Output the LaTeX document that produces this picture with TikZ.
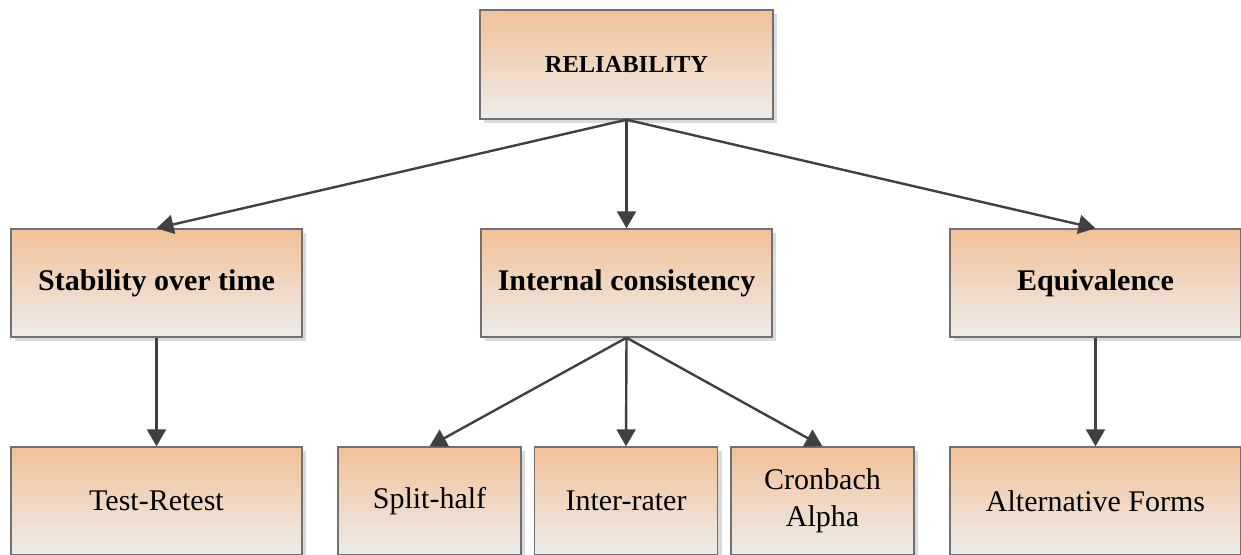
\documentclass[tikz,border=0pt]{standalone}
\usepackage{fontspec}
\setmainfont{Liberation Serif}
\usetikzlibrary{arrows.meta,shadows}
\definecolor{peach}{RGB}{242,193,151}
\definecolor{paleg}{RGB}{238,236,234}
\definecolor{edgeg}{RGB}{112,112,112}
\definecolor{arrowg}{RGB}{64,64,64}
\tikzset{
  box/.style={draw=edgeg, line width=1.4pt, top color=peach, bottom color=paleg,
    shading angle=0, minimum width=291pt, minimum height=108pt, inner sep=0pt,
    align=center, font=\fontsize{30}{37}\selectfont,
    drop shadow={shadow xshift=4pt, shadow yshift=-4pt, fill=black!14, opacity=1}},
  smallbox/.style={box, minimum width=183pt},
  link/.style={draw=arrowg, line width=2.4pt,
    -{Triangle[length=17pt, width=19pt]}, shorten >=0pt}
}
\begin{document}
\begin{tikzpicture}[x=1pt, y=-1pt]
  \useasboundingbox (0,0) rectangle (1241,554);
  % top level
  \node[box, minimum width=293pt, minimum height=109pt,
        font=\fontsize{24.5}{30}\selectfont\bfseries] (rel) at (626.5,64.5) {RELIABILITY};
  % second level
  \node[box, font=\fontsize{30}{37}\selectfont\bfseries] (stab) at (156.5,283) {Stability over time};
  \node[box, font=\fontsize{30}{37}\selectfont\bfseries] (cons) at (626.5,283) {Internal consistency};
  \node[box, font=\fontsize{30}{37}\selectfont\bfseries] (equi) at (1095.5,283) {Equivalence};
  % third level
  \node[box] (trt) at (156.5,501) {Test-Retest};
  \node[smallbox] (split) at (429.5,501) {Split-half};
  \node[smallbox] (inter) at (626,501) {Inter-rater};
  \node[smallbox] (cron) at (822.5,501) {Cronbach\\Alpha};
  \node[box] (alt) at (1095.5,501) {Alternative Forms};
  % connectors
  \draw[link] (rel.south) -- (stab.north);
  \draw[link] (rel.south) -- (cons.north);
  \draw[link] (rel.south) -- (equi.north);
  \draw[link] (stab.south) -- (trt.north);
  \draw[link] (cons.south) -- (split.north);
  \draw[link] (cons.south) -- (inter.north);
  \draw[link] (cons.south) -- (cron.north);
  \draw[link] (equi.south) -- (alt.north);
\end{tikzpicture}
\end{document}
